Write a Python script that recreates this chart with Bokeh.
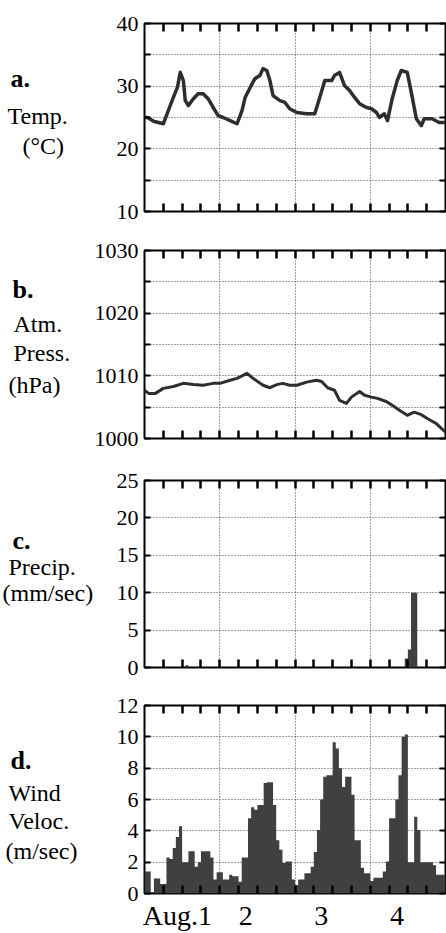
from bokeh.plotting import figure
from bokeh.models import LinearAxis, FixedTicker, Range1d
from bokeh.layouts import column, row
from bokeh.core.properties import value
from bokeh.embed import file_html
from bokeh.resources import INLINE

FONT = "Liberation Serif"

# ---- x axis (hours from 00:00, Aug. 1) ----
hour_ticks = [6, 12, 18, 24, 30, 36, 42, 48, 54, 60, 66, 72, 78, 84, 90]
day_grid = [24, 48, 72]
day_label_pos = [10.5, 32.3, 56.4, 80.5]
day_labels = ["Aug.1", "2", "3", "4"]

# ---- a. temperature ----
temp_hours = [0, 0.95, 2.9, 6.0, 7.6, 9.2, 10.5, 11.4, 12.4, 13.0,
              14.0, 15.6, 17.1, 18.7, 20.3, 21.9, 23.5, 25.1, 27.3, 29.5,
              31.1, 32.1, 33.7, 35.2, 36.8, 37.8, 39.0, 40.0, 41.0, 43.2,
              44.8, 46.3, 48.6, 51.7, 54.3, 55.9, 57.5, 59.7, 60.6, 62.2,
              63.8, 65.4, 67.0, 68.6, 70.8, 72.4, 74.0, 74.9, 76.5, 77.5,
              79.0, 80.6, 81.9, 83.8, 85.4, 86.7, 88.3, 89.2, 91.7, 94.0, 96.0]
temp_values = [25.0, 25.0, 24.4, 24.0, 26.1, 28.2, 29.8, 32.2, 30.9, 27.7,
               26.9, 28.0, 28.8, 28.8, 28.0, 26.6, 25.3, 25.0, 24.5, 24.0,
               26.1, 28.2, 29.8, 31.2, 31.7, 32.8, 32.5, 30.9, 28.5, 27.7,
               27.4, 26.4, 25.8, 25.6, 25.6, 28.2, 30.9, 30.9, 31.7, 32.2,
               30.1, 29.3, 28.2, 27.2, 26.6, 26.4, 25.8, 25.0, 25.6, 24.5,
               28.0, 30.9, 32.5, 32.2, 28.2, 24.8, 23.7, 24.8, 24.8, 24.2, 24.2]
temp_ticks = [10, 20, 30, 40]
temp_minor = [15, 25, 35]

# ---- b. atmospheric pressure ----
press_hours = [0, 1.3, 3.5, 6.0, 9.2, 12.4, 15.6, 18.7, 21.9, 24.1,
               27.3, 29.5, 32.7, 34.6, 37.8, 40.0, 42.2, 44.1, 46.3, 48.6,
               51.7, 54.9, 56.5, 58.4, 60.6, 62.2, 64.4, 66.0, 68.6, 70.2,
               72.4, 74.3, 77.1, 79.0, 81.3, 83.8, 86.0, 88.3, 90.2, 93.0, 96.0]
press_values = [1007.7, 1007.2, 1007.2, 1008.0, 1008.3, 1008.8, 1008.6, 1008.5, 1008.8, 1008.8,
                1009.3, 1009.6, 1010.4, 1009.6, 1008.5, 1008.1, 1008.6, 1008.8, 1008.5, 1008.5,
                1009.0, 1009.3, 1009.1, 1008.1, 1007.7, 1006.1, 1005.6, 1006.6, 1007.5, 1006.9,
                1006.6, 1006.4, 1005.9, 1005.3, 1004.5, 1003.7, 1004.2, 1003.8, 1003.2, 1002.4, 1001.0]
press_ticks = [1000, 1010, 1020, 1030]
press_minor = [1005, 1015, 1025]

# ---- c. precipitation (hourly bins, start hour) ----
precip_hours = [12, 13, 14, 82, 83, 84, 85, 86, 87]
precip_values = [0.0, 0.3, 0.0, 0.0, 1.2, 2.4, 10.0, 10.0, 0.0]
precip_ticks = [0, 5, 10, 15, 20, 25]

# ---- d. wind velocity (hourly bins, start hour) ----
wind_hours = list(range(96))
wind_values = [1.4, 1.4, 0.1, 0.95, 0.95, 0.6, 0.6, 2.3, 2.2, 2.9,
               3.6, 4.3, 2.0, 2.0, 2.7, 2.7, 1.7, 2.0, 2.7, 2.7,
               2.7, 2.3, 0.9, 1.35, 1.35, 0.9, 0.9, 1.2, 1.1, 1.1,
               0.75, 2.3, 2.3, 4.8, 5.5, 5.35, 5.65, 5.65, 7.05, 7.1,
               7.1, 5.65, 3.4, 2.8, 1.95, 2.05, 2.05, 0.9, 0.55, 0.9,
               0.9, 1.3, 1.3, 1.7, 2.65, 4.05, 6.0, 7.45, 7.55, 7.55,
               9.65, 9.25, 8.0, 6.8, 7.45, 7.45, 6.3, 3.4, 3.4, 1.65,
               1.3, 1.3, 0.8, 1.0, 1.0, 1.0, 1.4, 2.05, 4.8, 4.8,
               6.0, 7.55, 10.0, 10.15, 2.0, 2.0, 4.9, 4.05, 2.0, 2.0,
               2.0, 2.0, 1.8, 1.2, 1.2, 1.2]
wind_ticks = [0, 2, 4, 6, 8, 10, 12]

INK = "#2e2e2e"
FILL = "#404040"
LABEL_SIZE = "24px"
TICK_SIZE = "22px"
W = 446
FRAME_LEFT = 144


def make_panel(side_w, height, top, bottom, yr, yticks, yminor, ygrid, day_axis=False):
    p = figure(width=W - side_w, height=height, x_range=Range1d(0, 96), y_range=Range1d(*yr),
               output_backend="svg", toolbar_location=None,
               min_border_left=FRAME_LEFT - side_w, min_border_right=1,
               min_border_top=top, min_border_bottom=bottom)
    p.outline_line_color = "black"
    p.outline_line_width = 2
    p.outline_line_alpha = 1

    ya = p.yaxis[0]
    ya.ticker = FixedTicker(ticks=yticks, minor_ticks=yminor)
    ya.axis_line_color = None
    ya.major_tick_in = 6
    ya.major_tick_out = 0
    ya.minor_tick_in = 6
    ya.minor_tick_out = 0
    ya.major_tick_line_width = 2
    ya.minor_tick_line_width = 2
    ya.major_label_standoff = 6
    ya.major_label_text_font = FONT
    ya.major_label_text_font_size = TICK_SIZE
    ya.major_label_text_color = "black"

    xa = p.xaxis[0]
    xa.axis_line_color = None
    xa.minor_tick_in = 8
    xa.minor_tick_out = 0
    xa.minor_tick_line_width = 2.5
    xa.minor_tick_line_color = "black"
    xa.major_tick_in = 0
    xa.major_tick_out = 0
    if day_axis:
        xa.ticker = FixedTicker(ticks=day_label_pos, minor_ticks=hour_ticks)
        xa.major_label_overrides = dict(zip(day_label_pos, day_labels))
        xa.major_label_text_font = FONT
        xa.major_label_text_font_size = "28px"
        xa.major_label_text_color = "black"
        xa.major_label_standoff = 6
    else:
        xa.ticker = FixedTicker(ticks=[], minor_ticks=hour_ticks)
        xa.major_label_standoff = 0

    ta = LinearAxis(ticker=FixedTicker(ticks=[], minor_ticks=hour_ticks),
                    axis_line_color=None, major_tick_in=0, major_tick_out=0,
                    minor_tick_in=8, minor_tick_out=0, minor_tick_line_width=2.5,
                    minor_tick_line_color="black", major_label_standoff=0)
    p.add_layout(ta, "above")
    ra = LinearAxis(ticker=FixedTicker(ticks=[], minor_ticks=yticks + yminor),
                    axis_line_color=None, major_tick_in=0, major_tick_out=0,
                    minor_tick_in=6, minor_tick_out=0, minor_tick_line_width=2,
                    minor_tick_line_color="black", major_label_standoff=0)
    p.add_layout(ra, "right")

    p.xgrid.ticker = FixedTicker(ticks=day_grid)
    p.ygrid.ticker = FixedTicker(ticks=ygrid)
    for g in (p.xgrid, p.ygrid):
        g.grid_line_color = "#444444"
        g.grid_line_dash = "1 2"
        g.grid_line_width = 1
        g.grid_line_alpha = 1

    # side panel holding the panel's caption (letter, quantity, unit)
    s = figure(width=side_w, height=height, x_range=Range1d(0, side_w), y_range=p.y_range,
               output_backend="svg", toolbar_location=None,
               x_axis_location=None, y_axis_location=None,
               min_border_left=0, min_border_right=0,
               min_border_top=top, min_border_bottom=bottom)
    s.outline_line_color = None
    s.grid.visible = False
    return p, s


def side_labels(s, letter, letter_pos, lines):
    s.text(x=[letter_pos[0]], y=[letter_pos[1]], text=[letter],
           text_font=value(FONT), text_font_size=value("26px"), text_font_style="bold",
           text_baseline="middle", text_align="left", text_color="black")
    s.text(x=[t[1] for t in lines], y=[t[2] for t in lines], text=[t[0] for t in lines],
           text_font=value(FONT), text_font_size=value(LABEL_SIZE),
           text_baseline="middle", text_align="left", text_color="black")


# a. Temperature
pa, sa = make_panel(100, 230, 23, 19, (10, 40), temp_ticks, temp_minor, [15, 20, 25, 30, 35])
pa.line(temp_hours, temp_values, line_color=INK, line_width=3.5, line_join="round")
side_labels(sa, "a.", (10, 31.2), [("Temp.", 7, 25.3), ("(°C)", 22, 20.4)])

# b. Pressure
pb, sb = make_panel(78, 230, 20, 22, (1000, 1030), press_ticks, press_minor, [1005, 1010, 1015, 1020, 1025])
pb.line(press_hours, press_values, line_color=INK, line_width=3, line_join="round")
side_labels(sb, "b.", (12, 1023.8), [("Atm.", 13, 1018.2), ("Press.", 13, 1013.6), ("(hPa)", 8, 1008.5)])

# c. Precipitation
pc, sc = make_panel(112, 226, 20, 19, (0, 25), precip_ticks, [], [5, 10, 15, 20])
pc.varea_step(x=precip_hours + [precip_hours[-1] + 1], y1=0,
              y2=precip_values + [precip_values[-1]], step_mode="after", fill_color=FILL)
side_labels(sc, "c.", (12, 17.0), [("Precip.", 8, 13.4), ("(mm/sec)", 2, 9.9)])

# d. Wind velocity
pd_, sd = make_panel(100, 247, 19, 39, (0, 12), wind_ticks, [], [2, 4, 6, 8, 10], day_axis=True)
pd_.varea_step(x=wind_hours + [wind_hours[-1] + 1], y1=0,
               y2=wind_values + [wind_values[-1]], step_mode="after", fill_color=FILL)
side_labels(sd, "d.", (10, 8.5), [("Wind", 8, 6.4), ("Veloc.", 8, 4.6), ("(m/sec)", 5, 2.7)])

layout = column(row(sa, pa, spacing=0), row(sb, pb, spacing=0),
                row(sc, pc, spacing=0), row(sd, pd_, spacing=0), spacing=0)
open("out.html", "w").write(file_html(layout, INLINE))
